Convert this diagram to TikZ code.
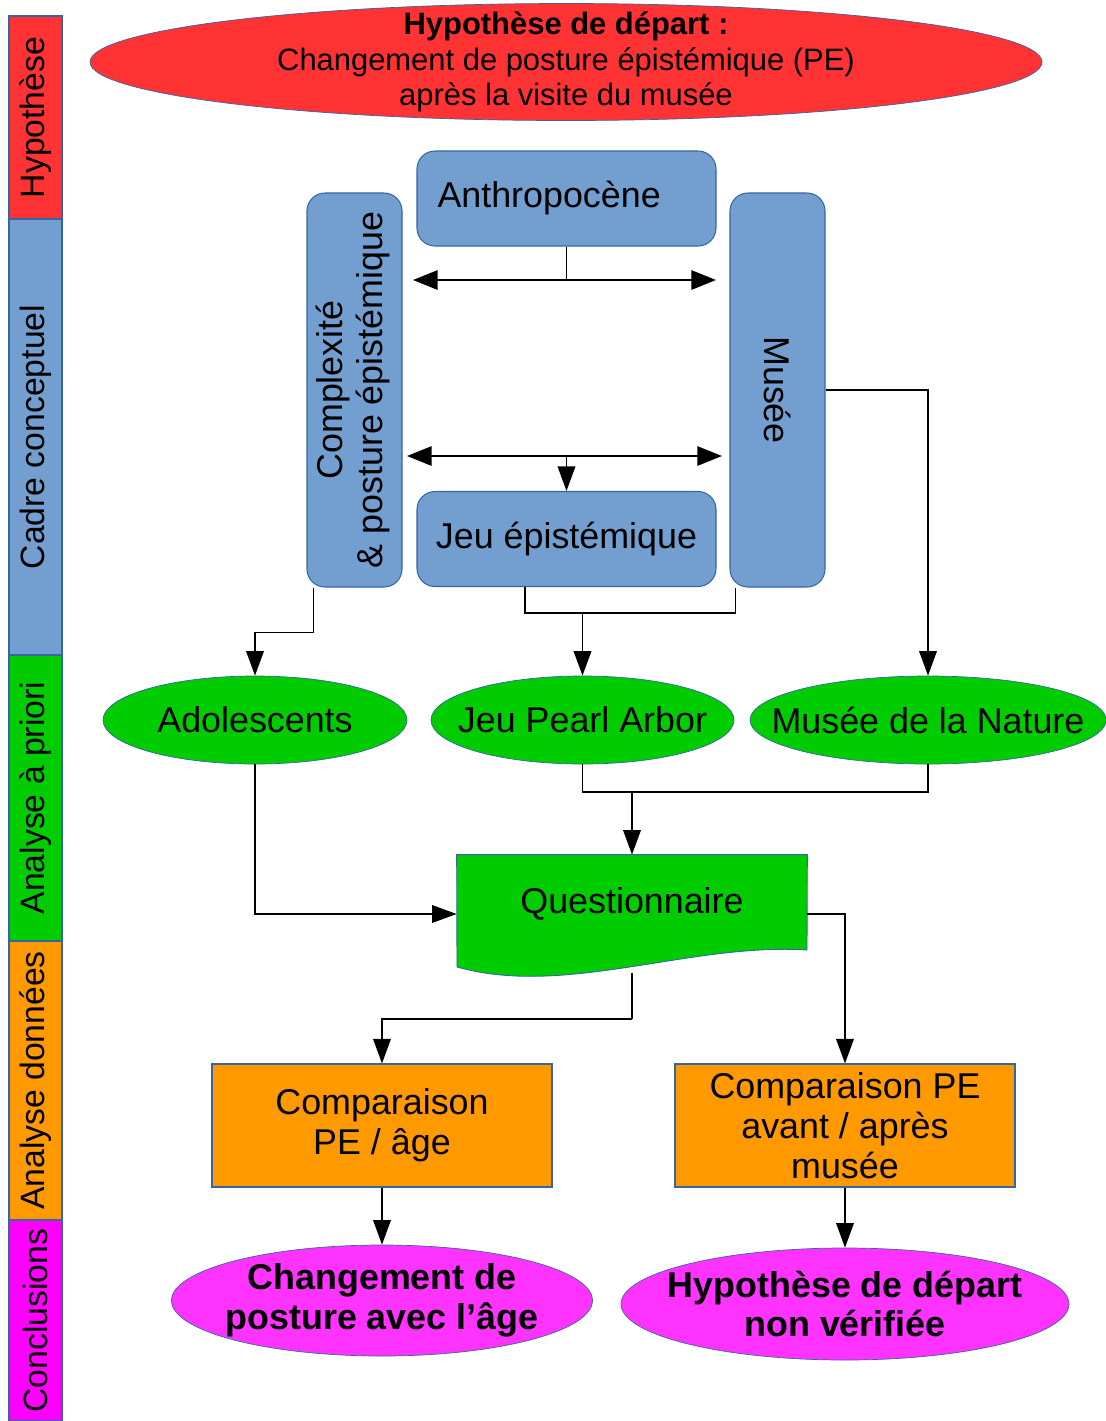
\documentclass[tikz,border=0pt]{standalone}
\usepackage{fontspec}
\setmainfont{Liberation Sans}
\usepackage{xcolor}
\usepackage{tikz}
\usetikzlibrary{arrows.meta,shapes.geometric,backgrounds}

\definecolor{hypred}{HTML}{FF3333}
\definecolor{cadreblue}{HTML}{729FCF}
\definecolor{prioriGreen}{HTML}{00CC00}
\definecolor{donneesOrange}{HTML}{FF9900}
\definecolor{conclMagenta}{HTML}{FF33FF}
\definecolor{sideMagenta}{HTML}{FF00FF}
\definecolor{edgeblue}{HTML}{3465A4}

\newcommand{\bigtxt}{\fontsize{20.4}{22.7}\selectfont}
\newcommand{\sidetxt}{\fontsize{19.2}{22}\selectfont}
\newcommand{\toptxt}{\fontsize{17.6}{20.1}\selectfont}

\begin{document}
\begin{tikzpicture}[
  font=\bigtxt,
  band/.style={draw=edgeblue, line width=0.6pt, rotate=90, minimum height=1.06cm, inner sep=0pt, font=\sidetxt},
  bluebox/.style={draw=edgeblue, line width=0.6pt, fill=cadreblue, rounded corners=0.36cm, align=center, inner sep=0pt},
  ell/.style={ellipse, draw=edgeblue, line width=0.4pt, inner xsep=-3cm, inner ysep=-1cm, align=center},
  greenell/.style={ell, fill=prioriGreen, minimum height=1.76cm},
  orangebox/.style={draw=edgeblue, line width=0.6pt, fill=donneesOrange, align=center, inner sep=0pt, minimum width=6.8cm, minimum height=2.46cm},
  conclell/.style={ell, fill=conclMagenta, font=\bigtxt\bfseries},
  arr/.style={-{Triangle[length=14pt,width=10pt]}, line width=1pt},
  dblarr/.style={{Triangle[length=14pt,width=11pt]}-{Triangle[length=14pt,width=11pt]}, line width=1pt},
  link/.style={line width=1pt},
]
\useasboundingbox (0,0) rectangle (22.12,-28.42);

% bandeau des phases
\node[band, fill=hypred, minimum width=4.06cm] (sbhyp) at (0.71,-2.35) {Hypothèse};
\node[band, fill=cadreblue, minimum width=8.72cm] (sbcadre) at (0.71,-8.74) {Cadre conceptuel};
\node[band, fill=prioriGreen, minimum width=5.72cm] (sbpriori) at (0.71,-15.96) {Analyse à priori};
\node[band, fill=donneesOrange, minimum width=5.58cm] (sbdonnees) at (0.71,-21.61) {Analyse données};
\node[band, fill=sideMagenta, minimum width=4.02cm] (sbconcl) at (0.71,-26.41) {Conclusions};

% hypothese
\node[ell, fill=hypred, minimum width=19.04cm, minimum height=2.34cm, font=\toptxt] (hyp) at (11.32,-1.24)
  {\textbf{Hypothèse de départ :}\\Changement de posture épistémique (PE)\\après la visite du musée};

% cadre conceptuel
\node[bluebox, minimum width=5.98cm, minimum height=1.9cm, text width=5.16cm, align=left] (anthro) at (11.33,-3.97) {Anthropocène};
\node[bluebox, minimum width=5.98cm, minimum height=1.9cm] (jeu) at (11.33,-10.78) {Jeu épistémique};
\node[bluebox, minimum width=1.9cm, minimum height=7.88cm] (complex) at (7.09,-7.80)
  {\rotatebox{90}{\begin{tabular}{@{}c@{}}Complexité\\ \& posture épistémique\end{tabular}}};
\node[bluebox, minimum width=1.9cm, minimum height=7.88cm] (musee) at (15.55,-7.80) {\rotatebox{-90}{Musée}};

\coordinate (t1l) at (8.26,-5.60);
\coordinate (t1r) at (14.32,-5.60);
\coordinate (t2l) at (8.14,-9.12);
\coordinate (t2r) at (14.44,-9.12);
\draw[dblarr] (t1l) -- (t1r);
\draw[link] (anthro.south) -- (anthro.south |- t1l);
\draw[dblarr] (t2l) -- (t2r);
\draw[arr] (jeu.north |- t2l) -- (jeu.north);

% analyse a priori
\node[greenell, minimum width=6.08cm] (ado) at (5.10,-14.40) {Adolescents};
\node[greenell, minimum width=6.06cm] (pearl) at (11.65,-14.40) {Jeu Pearl Arbor};
\node[greenell, minimum width=7.12cm] (nature) at (18.56,-14.40) {Musée de la Nature};

\draw[arr] ([xshift=0.14cm]complex.south west) -- ++(0,-0.90) -| (ado.north);
\draw[link] ([xshift=-0.83cm]jeu.south) -- ++(0,-0.52) -| ([xshift=0.12cm]musee.south west);
\draw[arr] (pearl.north |- 0,-12.26) -- (pearl.north);
\draw[arr] (musee.east) -| (nature.north);

% questionnaire
\node[minimum width=7cm, minimum height=2.36cm, inner sep=0pt] (quest) at (12.64,-18.28) {};
\begin{scope}[on background layer]
\draw[link] (quest.south) -- ++(0,-0.92) coordinate (qd);
\end{scope}
\path[fill=prioriGreen, draw=edgeblue, line width=0.5pt] (quest.north west) -- (quest.north east) -- (16.14,-19.0)
  .. controls (13.8,-18.85) and (11.3,-19.95) .. (9.14,-19.34) -- cycle;
\node at (12.64,-18.08) {Questionnaire};

\draw[link] (pearl.south) -- ++(0,-0.56) -| (nature.south);
\draw[arr] (quest.north |- 0,-15.84) -- (quest.north);
\draw[arr] (ado.south) |- (quest.west);

% analyse des donnees
\node[orangebox] (cmp1) at (7.64,-22.51) {Comparaison\\PE / âge};
\node[orangebox] (cmp2) at (16.90,-22.51) {Comparaison PE\\avant / après\\musée};

\draw[arr] (quest.east) -| (cmp2.north);
\draw[arr] (qd) -| (cmp1.north);

% conclusions
\node[conclell, minimum width=8.42cm, minimum height=2.22cm] (concl1) at (7.64,-26.01) {Changement de\\posture avec l’âge};
\node[conclell, minimum width=8.96cm, minimum height=2.24cm] (concl2) at (16.90,-26.08) {Hypothèse de départ\\non vérifiée};

\draw[arr] (cmp1.south) -- (concl1.north);
\draw[arr] (cmp2.south) -- (concl2.north);
\end{tikzpicture}
\end{document}
